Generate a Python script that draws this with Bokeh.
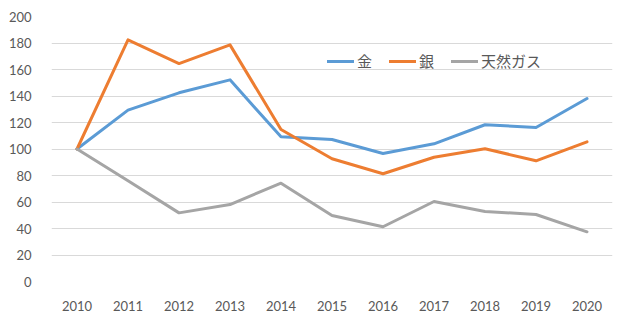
from bokeh.plotting import figure
from bokeh.models import Range1d, FactorRange, Legend, LegendItem
from bokeh.embed import file_html
from bokeh.resources import INLINE

years = ["2010", "2011", "2012", "2013", "2014", "2015", "2016", "2017", "2018", "2019", "2020"]
gold = [100, 129.3, 142.4, 152.2, 109.2, 107.2, 96.6, 103.9, 118.3, 116.2, 138.1]
silver = [100, 182.4, 164.5, 178.6, 114.7, 92.6, 81.3, 93.8, 100.2, 91.1, 105.4]
gas = [100, 76.0, 51.8, 58.1, 74.2, 49.8, 41.3, 60.4, 52.8, 50.6, 37.5]
series_names = ["金", "銀", "天然ガス"]
colors = ["#5B9BD5", "#ED7D31", "#A5A5A5"]

p = figure(width=618, height=321, x_range=FactorRange(*years, range_padding=0),
           y_range=Range1d(0, 200), output_backend="svg", toolbar_location=None,
           min_border_left=51, min_border_right=6, min_border_top=16, min_border_bottom=40)
p.outline_line_color = None
p.background_fill_color = "white"
p.border_fill_color = "white"

renderers = []
for ys, c in zip([gold, silver, gas], colors):
    r = p.line(years, ys, line_color=c, line_width=3, line_join="round", line_cap="round")
    renderers.append(r)

p.xgrid.grid_line_color = None
p.ygrid.grid_line_color = "#D9D9D9"
p.ygrid.grid_line_width = 1
p.yaxis.ticker = list(range(0, 201, 20))
for ax in (p.xaxis, p.yaxis):
    ax.axis_line_color = None
    ax.major_tick_line_color = None
    ax.minor_tick_line_color = None
    ax.major_label_text_color = "#595959"
    ax.major_label_text_font = "Lato"
    ax.major_label_text_font_size = "13px"
p.yaxis.major_label_standoff = 14
p.xaxis.major_label_standoff = 13

legend = Legend(items=[LegendItem(label=n, renderers=[r]) for n, r in zip(series_names, renderers)],
                orientation="horizontal", location=(276, 210),
                glyph_width=27, glyph_height=10, label_standoff=3, spacing=12,
                padding=2, margin=0, border_line_color=None, background_fill_alpha=0,
                label_text_font="Noto Sans CJK JP", label_text_font_size="15px",
                label_text_color="#595959")
p.add_layout(legend)

open("out.html", "w").write(file_html(p, INLINE))
